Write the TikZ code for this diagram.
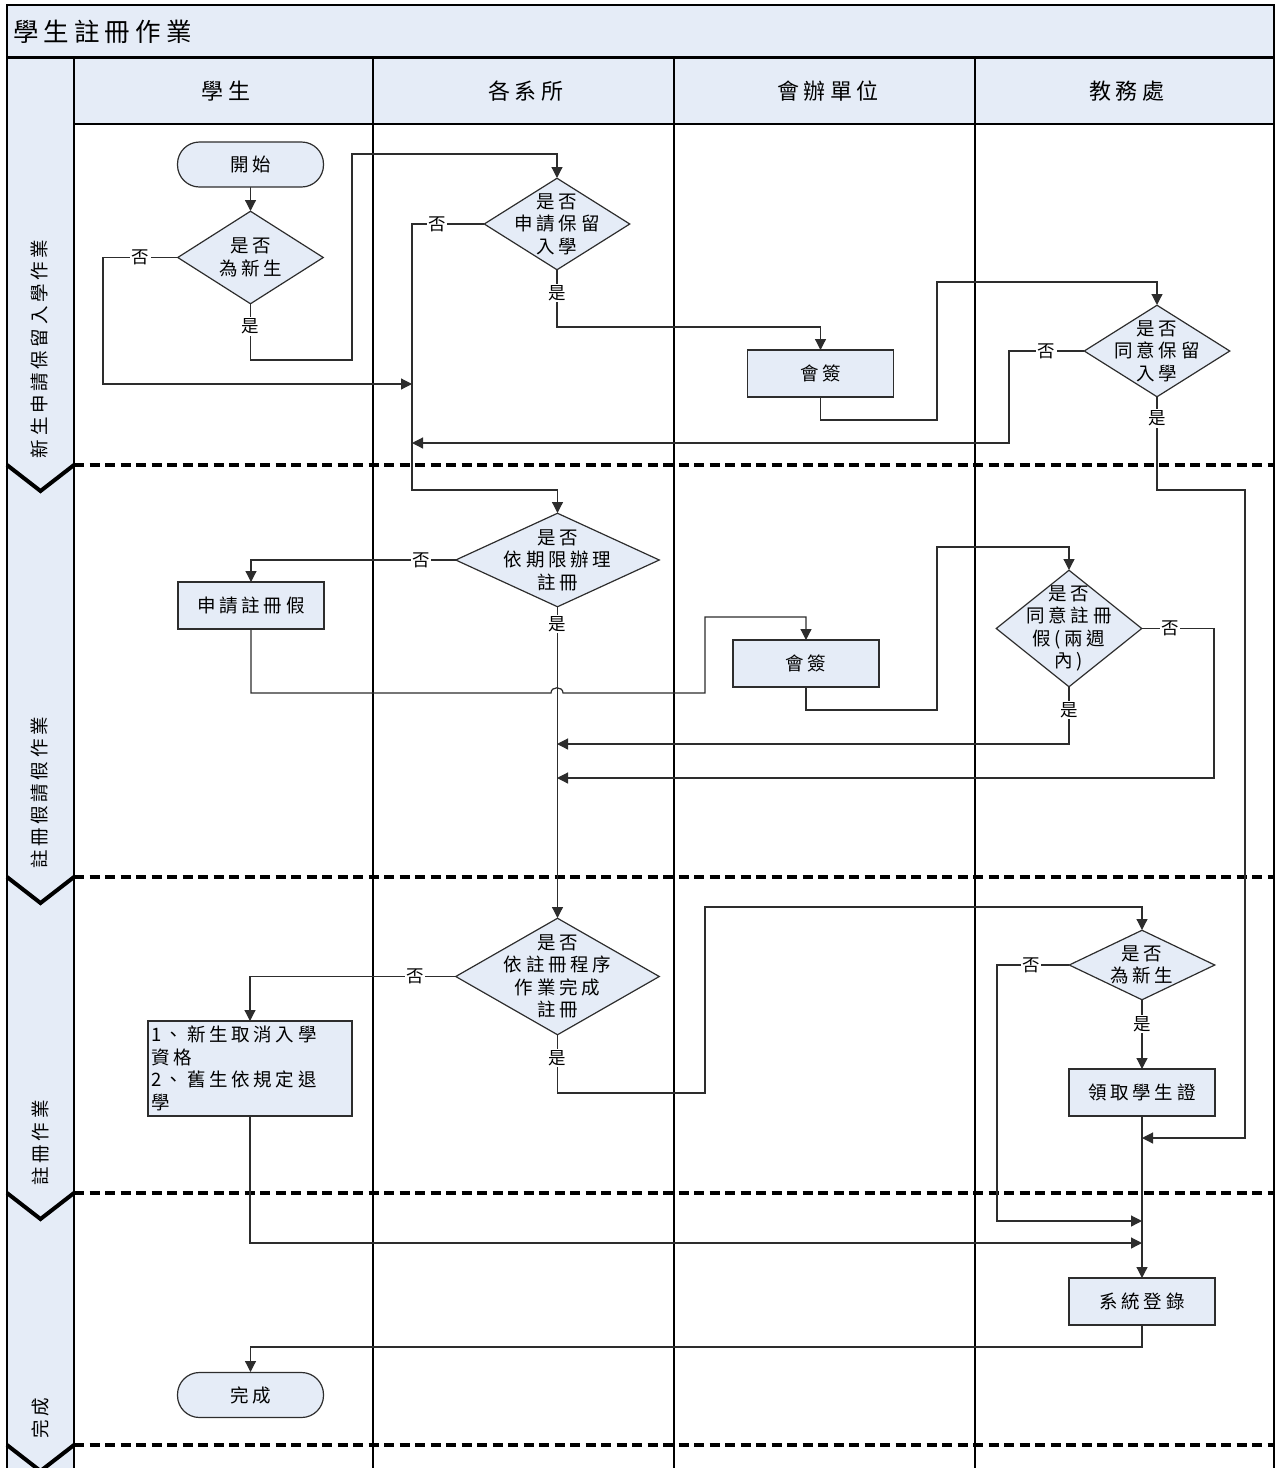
\documentclass[tikz,border=0pt]{standalone}
\usepackage{fontspec}
\setmainfont{Noto Sans CJK TC}
\newfontfamily\cjksp[LetterSpace=20]{Noto Sans CJK TC}
\usetikzlibrary{arrows.meta,shapes.geometric}
\definecolor{lblue}{RGB}{229,236,247}
\definecolor{lnc}{RGB}{45,45,45}
\begin{document}
\begin{tikzpicture}[x=1pt,y=-1pt,
  frame/.style={draw=black,line width=1.5pt},
  laneline/.style={draw=black,line width=1.2pt},
  sepline/.style={draw=black,line width=3.6pt,dash pattern=on 10pt off 5.5pt},
  chev/.style={draw=black,line width=4pt,line join=miter},
  hdr/.style={font=\cjksp\fontsize{22}{26}\selectfont,inner sep=0pt},
  ttl/.style={font=\cjksp\fontsize{25.5}{29}\selectfont,inner sep=0pt,anchor=west},
  phase/.style={font=\cjksp\fontsize{18.5}{22}\selectfont,rotate=90,inner sep=0pt},
  pbox/.style={draw=lnc,line width=1.2pt,fill=lblue,minimum width=146pt,minimum height=47pt,inner sep=0pt,font=\cjksp\fontsize{18.5}{22.5}\selectfont},
  term/.style={pbox,rounded corners=22pt,minimum height=45pt},
  dia/.style={diamond,draw=lnc,line width=1.2pt,fill=lblue,inner sep=0pt},
  dtext/.style={align=center,inner sep=0pt,font=\cjksp\fontsize{18.5}{22.5}\selectfont},
  yn/.style={fill=white,inner sep=1.5pt,font=\fontsize{17.5}{19}\selectfont},
  ln/.style={draw=lnc,line width=1.2pt},
  arr/.style={ln,-{Triangle[length=11pt,width=11pt]}},
]
\useasboundingbox (0,0) rectangle (1276,1468);
% ---------- frame ----------
\draw[frame,fill=lblue] (7,5) rectangle (1274,57);
\node[ttl] (title) at (13,32) {學生註冊作業};
\fill[lblue] (7,58) rectangle (74,1480);
\fill[lblue] (74,58) rectangle (1274,124);
\draw[frame] (7,58) rectangle (1274,1480);
\draw[frame] (74,58) -- (74,1480);
\draw[laneline] (74,124) -- (1274,124);
\foreach \x in {373,674,975} \draw[laneline] (\x,58) -- (\x,1480);
\node[hdr] (h1) at (226,91) {學生};
\node[hdr] (h2) at (526,91) {各系所};
\node[hdr] (h3) at (828,91) {會辦單位};
\node[hdr] (h4) at (1127,91) {教務處};
% ---------- phases ----------
\foreach \y in {465,877,1193,1445} {
  \draw[sepline] (74,\y) -- (1274,\y);
  \draw[chev] (7,\y) -- (40.5,{\y+26}) -- (74,\y);
}
\node[phase] (p1) at (40,349) {新生申請保留入學作業};
\node[phase] (p2) at (40,793) {註冊假請假作業};
\node[phase] (p3) at (40,1143) {註冊作業};
\node[phase] (p4) at (40,1418) {完成};
% ---------- junction points ----------
\coordinate (j1) at (412,384);
\coordinate (j2) at (412,443);
\coordinate (j3) at (1142,1138);
\coordinate (j4) at (557,744);
\coordinate (j5) at (557,778);
\coordinate (j6) at (1142,1221);
\coordinate (j7) at (1142,1243);
% ---------- connectors ----------
\draw[arr] (250.5,187) -- (250.5,211);
\draw[arr] (250.5,304) -- node[yn,pos=0.4]{是} (250.5,360) -- (352,360) -- (352,154) -- (557,154) -- (557,178);
\draw[arr] (177.5,257.5) -- node[yn]{否} (103,257.5) -- (103,384) -- (j1);
\draw[arr] (484,224) -- node[yn,pos=0.65]{否} (412,224) -- (412,490) -- (557.5,490) -- (557.5,513);
\draw[arr] (557,270) -- node[yn,pos=0.4]{是} (557,327) -- (820.5,327) -- (820.5,350);
\draw[arr] (820.5,397) -- (820.5,420) -- (937,420) -- (937,282) -- (1157,282) -- (1157,305);
\draw[arr] (1084,351) -- node[yn]{否} (1009,351) -- (1009,443) -- (j2);
\draw[arr] (1157,397) -- node[yn,pos=0.23]{是} (1157,490) -- (1245,490) -- (1245,1138) -- (j3);
\draw[arr] (456,560) -- node[yn,pos=0.17]{否} (251,560) -- (251,582);
\draw[arr] (251,629) -- (251,693) -- (551,693) .. controls (551,686) and (563,686) .. (563,693) -- (705,693) -- (705,617) -- (806,617) -- (806,640);
\draw[arr] (806,687) -- (806,710) -- (937,710) -- (937,547) -- (1069,547) -- (1069,570);
\draw[arr] (1142,628.5) -- node[yn,pos=0.39]{否} (1214,628.5) -- (1214,778) -- (j5);
\draw[arr] (1069,687) -- node[yn,pos=0.4]{是} (1069,744) -- (j4);
\draw[arr] (557.5,607) -- node[yn,pos=0.055]{是} (557.5,918);
\draw[arr] (456,976.5) -- node[yn,pos=0.2]{否} (250,976.5) -- (250,1021);
\draw[arr] (557.5,1035) -- node[yn,pos=0.4]{是} (557.5,1093) -- (705,1093) -- (705,907) -- (1142,907) -- (1142,930);
\draw[arr] (1069,965) -- node[yn,pos=0.53]{否} (997,965) -- (997,1221) -- (j6);
\draw[arr] (1142,1000) -- node[yn,pos=0.35]{是} (1142,1069);
\draw[arr] (1142,1116) -- (1142,1278);
\draw[arr] (250,1116) -- (250,1243) -- (j7);
\draw[arr] (1142,1325) -- (1142,1347) -- (250.5,1347) -- (250.5,1372);
% ---------- nodes ----------
\node[term] (start) at (250.5,164.5) {開始};
\node[dia,minimum width=146pt,minimum height=93pt] (d1) at (250.5,257.5) {};
\node[dtext] (d1t) at (d1) {是否\\為新生};
\node[dia,minimum width=146pt,minimum height=92pt] (d2) at (557,224) {};
\node[dtext] (d2t) at (d2) {是否\\申請保留\\入學};
\node[pbox] (k1) at (820.5,373.5) {會簽};
\node[dia,minimum width=146pt,minimum height=92pt] (d4) at (1157,351) {};
\node[dtext] (d4t) at (d4) {是否\\同意保留\\入學};
\node[dia,minimum width=204pt,minimum height=94pt] (d3) at (557.5,560) {};
\node[dtext] (d3t) at (d3) {是否\\依期限辦理\\註冊};
\node[pbox] (a1) at (251,605.5) {申請註冊假};
\node[pbox] (k2) at (806,663.5) {會簽};
\node[dia,minimum width=146pt,minimum height=117pt] (d5) at (1069,628.5) {};
\node[dtext] (d5t) at (d5) {是否\\同意註冊\\假(兩週\\內)};
\node[dia,minimum width=204pt,minimum height=117pt] (d6) at (557.5,976.5) {};
\node[dtext] (d6t) at (d6) {是否\\依註冊程序\\作業完成\\註冊};
\node[pbox,minimum width=204pt,minimum height=95pt,text width=198pt,align=left] (b1) at (250,1068.5) {1、新生取消入學\\資格\\2、舊生依規定退\\學};
\node[dia,minimum width=146pt,minimum height=70pt] (d7) at (1142,965) {};
\node[dtext] (d7t) at (d7) {是否\\為新生};
\node[pbox] (c1) at (1142,1092.5) {領取學生證};
\node[pbox] (s1) at (1142,1301.5) {系統登錄};
\node[term] (end) at (250.5,1395) {完成};
\end{tikzpicture}
\end{document}
